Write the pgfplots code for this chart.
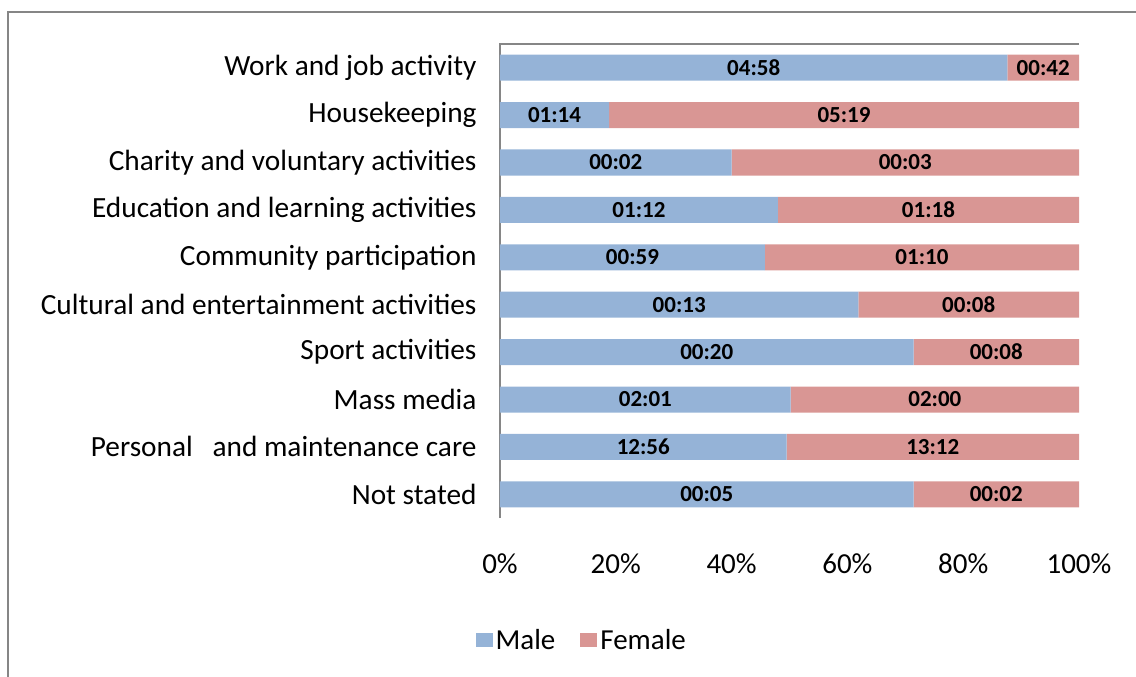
\documentclass[border=0pt]{standalone}
\usepackage{pgfplots}
\pgfplotsset{compat=1.18}
\usepackage{pgfplotstable}
\usepackage{fontspec}
\setmainfont{Carlito}
\definecolor{male}{HTML}{95B3D7}
\definecolor{female}{HTML}{D99694}
\definecolor{framegray}{HTML}{868686}

\pgfplotstableread{
y male female mc fc mlab flab
0 87.65 12.35 43.82 93.82 04:58 00:42
1 18.83 81.17 9.41 59.41 01:14 05:19
2 40.00 60.00 20.00 70.00 00:02 00:03
3 48.00 52.00 24.00 74.00 01:12 01:18
4 45.74 54.26 22.87 72.87 00:59 01:10
5 61.90 38.10 30.95 80.95 00:13 00:08
6 71.43 28.57 35.71 85.71 00:20 00:08
7 50.21 49.79 25.10 75.10 02:01 02:00
8 49.49 50.51 24.74 74.74 12:56 13:12
9 71.43 28.57 35.71 85.71 00:05 00:02
}\data

\begin{document}
\begin{tikzpicture}
\useasboundingbox (0pt,0pt) rectangle (1136pt,677pt);
\draw[framegray, line width=2pt] (8pt,0pt) -- (8pt,665pt) -- (1137pt,665pt);
\begin{axis}[
  at={(500pt,159pt)}, anchor=south west, scale only axis,
  width=579pt, height=474pt,
  xbar stacked, bar width=26pt,
  xmin=0, xmax=100, ymin=-0.5, ymax=9.5, y dir=reverse,
  axis line style={draw=none}, tick style={draw=none},
  xtick={0,20,40,60,80,100},
  xticklabels={0\%,20\%,40\%,60\%,80\%,100\%},
  xticklabel style={font=\fontsize{29}{29}\selectfont, yshift=-32pt},
  ytick={0,...,9},
  yticklabels={Work and job activity, Housekeeping, Charity and voluntary activities, Education and learning activities, Community participation, Cultural and entertainment activities, Sport activities, Mass media, Personal~~~and maintenance care, Not stated},
  yticklabel style={font=\fontsize{29.3}{29.3}\selectfont, xshift=-20pt},
  legend style={at={(0.142,-0.257)}, anchor=center, draw=none, fill=none,
    legend columns=2, font=\fontsize{29}{29}\selectfont,
    /tikz/every even column/.append style={column sep=22pt},
    nodes={inner sep=3pt}},
  legend image code/.code={\fill[#1] (0pt,-7pt) rectangle (17pt,7pt);},
  clip=false,
]
\addplot[fill=male, draw=none] table[x=male, y=y]{\data};
\addplot[fill=female, draw=none] table[x=female, y=y]{\data};
\legend{Male, Female}
\draw[framegray, line width=2pt] (axis description cs:0,0) -- (axis description cs:0,1) -- (axis description cs:1,1);
\end{axis}
\begin{axis}[
  at={(500pt,159pt)}, anchor=south west, scale only axis,
  width=579pt, height=474pt,
  xmin=0, xmax=100, ymin=-0.5, ymax=9.5, y dir=reverse,
  hide axis, clip=false,
  every node near coord/.append style={anchor=center, font=\bfseries\fontsize{23}{23}\selectfont, text=black},
]
\addplot[draw=none, mark=none, nodes near coords, point meta=explicit symbolic] table[x=mc, y=y, meta=mlab]{\data};
\addplot[draw=none, mark=none, nodes near coords, point meta=explicit symbolic] table[x=fc, y=y, meta=flab]{\data};
\end{axis}
\end{tikzpicture}
\end{document}
